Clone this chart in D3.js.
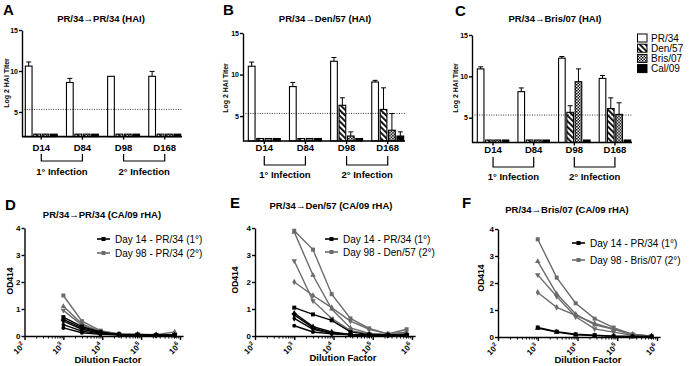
<!DOCTYPE html>
<html>
<head>
<meta charset="utf-8">
<script src="https://cdn.jsdelivr.net/npm/d3@7"></script>
<style>
  body { margin: 0; background: #fff; }
  svg { font-family: "Liberation Sans", Arial, sans-serif; }
</style>
</head>
<body>
<svg id="fig" width="696" height="366"></svg>
<script>
// HAI titers (log2), rows = days, cols = strains
const days = ['D14', 'D84', 'D98', 'D168'];
const strains = ['PR/34', 'Den/57', 'Bris/07', 'Cal/09'];
const haiA = [[10.6, 2.3, 2.3, 2.3], [8.6, 2.3, 2.3, 2.3], [9.35, 2.3, 2.3, 2.3], [9.35, 2.3, 2.3, 2.3]];
const errA = [[0.5, 0, 0, 0], [0.5, 0, 0, 0], [0, 0, 0, 0], [0.6, 0, 0, 0]];
const haiB = [[11.0, 2.3, 2.3, 2.3], [8.55, 2.3, 2.3, 2.3], [11.6, 6.3, 2.6, 2.3], [9.1, 5.8, 3.3, 2.6]];
const errB = [[0.5, 0, 0, 0], [0.5, 0, 0, 0], [0.45, 0.9, 0.5, 0], [0.2, 2.6, 2.0, 0.5]];
const haiC = [[10.9, 2.3, 2.3, 2.3], [8.15, 2.3, 2.3, 2.3], [12.2, 5.65, 9.35, 2.3], [9.75, 6.1, 5.4, 2.3]];
const errC = [[0.25, 0, 0, 0], [0.45, 0, 0, 0], [0.2, 0.8, 1.55, 0], [0.35, 1.3, 1.4, 0]];
const haiTicks = [5, 10, 15];
const detectLimit = 5.32;
const infections = ['1° Infection', '2° Infection'];

// ELISA OD414 vs dilution
const dilutions = [1000, 3000, 9000, 27000, 81000, 243000, 729000];
const odTicks = [0, 1, 2, 3, 4];
const d14D = [
  [0.7, 0.35, 0.15, 0.06, 0.05, 0.03, 0.03],
  [0.62, 0.3, 0.12, 0.05, 0.04, 0.03, 0.03],
  [0.55, 0.25, 0.1, 0.05, 0.04, 0.03, 0.03],
  [0.42, 0.18, 0.08, 0.04, 0.03, 0.02, 0.02],
  [0.3, 0.12, 0.06, 0.04, 0.03, 0.02, 0.02]
];
const d98D = [
  [1.5, 0.55, 0.2, 0.08, 0.06, 0.04, 0.05],
  [1.1, 0.45, 0.15, 0.08, 0.07, 0.05, 0.15],
  [0.95, 0.4, 0.18, 0.07, 0.05, 0.04, 0.05]
];
const d14E = [
  [1.05, 0.8, 0.58, 0.15, 0.05, 0.03, 0.03],
  [0.85, 0.35, 0.15, 0.06, 0.04, 0.03, 0.03],
  [0.78, 0.3, 0.1, 0.05, 0.03, 0.03, 0.03],
  [0.65, 0.25, 0.1, 0.05, 0.03, 0.02, 0.03],
  [0.38, 0.15, 0.08, 0.04, 0.03, 0.02, 0.02]
];
const d98E = [
  [3.9, 3.2, 1.55, 0.65, 0.28, 0.08, 0.25],
  [3.85, 2.25, 1.0, 0.3, 0.1, 0.05, 0.1],
  [2.78, 1.3, 0.65, 0.2, 0.08, 0.05, 0.05],
  [2.0, 1.5, 1.05, 0.55, 0.25, 0.08, 0.15]
];
const d14F = [
  [0.35, 0.2, 0.1, 0.07, 0.03, 0.02, 0.02],
  [0.33, 0.18, 0.08, 0.05, 0.03, 0.02, 0.02]
];
const d98F = [
  [3.62, 2.2, 1.25, 0.68, 0.35, 0.1, 0.03],
  [2.8, 1.6, 0.85, 0.45, 0.28, 0.08, 0.03],
  [2.3, 1.5, 0.75, 0.3, 0.18, 0.06, 0.02],
  [1.65, 1.1, 0.8, 0.5, 0.3, 0.1, 0.03]
];

const svg = d3.select('#fig');
const gray = '#6b6b6b';

// fill patterns
const defs = svg.append('defs');
const hatch = defs.append('pattern').attr('id', 'hatch')
  .attr('patternUnits', 'userSpaceOnUse').attr('width', 4).attr('height', 4)
  .attr('patternTransform', 'rotate(-45)');
hatch.append('rect').attr('width', 4).attr('height', 4).attr('fill', '#fff');
hatch.append('rect').attr('width', 1.8).attr('height', 4).attr('fill', '#000');
const checker = defs.append('pattern').attr('id', 'checker')
  .attr('patternUnits', 'userSpaceOnUse').attr('width', 3).attr('height', 3);
checker.append('rect').attr('width', 3).attr('height', 3).attr('fill', '#fff');
checker.append('rect').attr('width', 1.5).attr('height', 1.5).attr('fill', '#000');
checker.append('rect').attr('x', 1.5).attr('y', 1.5).attr('width', 1.5).attr('height', 1.5).attr('fill', '#000');
const fills = { 'PR/34': '#fff', 'Den/57': 'url(#hatch)', 'Bris/07': 'url(#checker)', 'Cal/09': '#000' };

function label(p) {
  svg.append('text').attr('x', p.lx).attr('y', p.ly)
    .attr('font-size', 15).attr('font-weight', 'bold').text(p.letter);
  svg.append('text').attr('x', p.tx).attr('y', p.ty).attr('text-anchor', 'middle')
    .attr('font-size', 9.5).attr('font-weight', 'bold').text(p.title);
}

function styleAxis(sel) {
  sel.selectAll('.domain, .tick line').attr('stroke', '#000').attr('stroke-width', 1.4);
  sel.selectAll('.tick text').attr('font-weight', 'bold').attr('font-size', 7.5)
    .attr('font-family', '"Liberation Sans", Arial, sans-serif');
}

function barPanel(p, data, err) {
  label(p);
  const g = svg.append('g');
  const y = d3.scaleLinear().domain([2, 15]).range([p.yb, p.yt]);
  const x = d3.scaleBand().domain(days).range([p.bx0, p.bx1]).paddingInner(0.2).paddingOuter(0.02);
  const xs = d3.scaleBand().domain(strains).range([0, x.bandwidth()]).paddingInner(0.08);

  days.forEach((d, i) => {
    const gg = g.append('g').attr('transform', `translate(${x(d)},0)`);
    const rows = strains.map((s, j) => ({ s: s, v: data[i][j], e: err[i][j] }));
    gg.selectAll('rect').data(rows).join('rect')
      .attr('x', r => xs(r.s) + 0.5).attr('width', xs.bandwidth() - 1)
      .attr('y', r => y(r.v)).attr('height', r => y(2) - y(r.v))
      .attr('fill', r => fills[r.s]).attr('stroke', '#000').attr('stroke-width', 1.1);
    const eb = rows.filter(r => r.e > 0);
    gg.selectAll('line.eb').data(eb).join('line').attr('class', 'eb')
      .attr('x1', r => xs(r.s) + xs.bandwidth() / 2).attr('x2', r => xs(r.s) + xs.bandwidth() / 2)
      .attr('y1', r => y(r.v)).attr('y2', r => y(r.v + r.e))
      .attr('stroke', '#000').attr('stroke-width', 1);
    gg.selectAll('line.cap').data(eb).join('line').attr('class', 'cap')
      .attr('x1', r => xs(r.s) + xs.bandwidth() / 2 - 2.5).attr('x2', r => xs(r.s) + xs.bandwidth() / 2 + 2.5)
      .attr('y1', r => y(r.v + r.e)).attr('y2', r => y(r.v + r.e))
      .attr('stroke', '#000').attr('stroke-width', 1);
  });

  // detection limit
  g.append('line').attr('x1', p.ax).attr('x2', p.ax1)
    .attr('y1', y(detectLimit)).attr('y2', y(detectLimit))
    .attr('stroke', '#000').attr('stroke-width', 0.8).attr('stroke-dasharray', '1,1.4');

  // y axis
  const ya = g.append('g').attr('transform', `translate(${p.ax},0)`)
    .call(d3.axisLeft(y).tickValues(haiTicks).tickFormat(d3.format('d'))
      .tickSize(3).tickSizeOuter(0).tickPadding(1));
  styleAxis(ya);
  ya.selectAll('.tick text').attr('font-size', 7);
  g.append('text').attr('transform', `translate(${p.ylx},${p.yly}) rotate(-90)`)
    .attr('text-anchor', 'middle').attr('font-size', 7).attr('font-weight', 'bold')
    .text('Log 2 HAI Titer');

  // x axis
  g.append('line').attr('x1', p.ax).attr('x2', p.ax1).attr('y1', y(2)).attr('y2', y(2))
    .attr('stroke', '#000').attr('stroke-width', 1.6);
  const cx = d => x(d) + x.bandwidth() / 2;
  g.selectAll('line.xt').data(days).join('line').attr('class', 'xt')
    .attr('x1', cx).attr('x2', cx).attr('y1', y(2)).attr('y2', y(2) + 3)
    .attr('stroke', '#000').attr('stroke-width', 1.4);
  g.selectAll('text.xl').data(days).join('text').attr('class', 'xl')
    .attr('x', cx).attr('y', p.labY).attr('text-anchor', 'middle')
    .attr('font-size', 9.5).attr('font-weight', 'bold').text(d => d);

  // infection brackets
  [[days[0], days[1]], [days[2], days[3]]].forEach((pair, k) => {
    const a = cx(pair[0]), b = cx(pair[1]);
    g.append('path').attr('d', `M${a},${p.brTop}V${p.brBot}H${b}V${p.brTop}`)
      .attr('fill', 'none').attr('stroke', '#000').attr('stroke-width', 1.2);
    g.append('text').attr('x', (a + b) / 2).attr('y', p.infY).attr('text-anchor', 'middle')
      .attr('font-size', 9.5).attr('font-weight', 'bold').text(infections[k]);
  });
}

const symbols = [d3.symbolSquare, d3.symbolTriangle, 'down', d3.symbolDiamond, d3.symbolCircle];
function marker(sel, k, cx, cy, color) {
  const t = symbols[k % symbols.length];
  const isDown = t === 'down';
  sel.append('path')
    .attr('d', d3.symbol().type(isDown ? d3.symbolTriangle : t).size(k === 0 ? 16 : 13)())
    .attr('transform', `translate(${cx},${cy})` + (isDown ? ' rotate(180)' : ''))
    .attr('fill', color);
}

function linePanel(p, black, grey) {
  label(p);
  const g = svg.append('g');
  const span = Math.log10(1.2e6 / 100);
  const x = d3.scaleLog().domain([100, 1.2e6]).range([p.x0, p.x0 + (p.x6 - p.x0) * span / 4]);
  const y = d3.scaleLinear().domain([0, 4]).range([p.y0, p.y4]);
  const line = d3.line().x((d, i) => x(dilutions[i])).y(d => y(d));

  const draw = (series, color) => {
    series.forEach((s, k) => {
      g.append('path').datum(s).attr('d', line).attr('fill', 'none')
        .attr('stroke', color).attr('stroke-width', 1.4);
      s.forEach((v, i) => marker(g, k, x(dilutions[i]), y(v), color));
    });
  };
  draw(grey, gray);
  draw(black, '#000');

  // y axis
  const ya = g.append('g').attr('transform', `translate(${p.x0},0)`)
    .call(d3.axisLeft(y).tickValues(odTicks).tickFormat(d3.format('d'))
      .tickSize(3).tickSizeOuter(0).tickPadding(1));
  styleAxis(ya);
  ya.selectAll('.tick text').attr('font-size', 8);
  g.append('text').attr('transform', `translate(${p.ylx},${p.yly}) rotate(-90)`)
    .attr('text-anchor', 'middle').attr('font-size', 8.5).attr('font-weight', 'bold').text('OD414');

  // x axis, log ticks
  const majors = [1e2, 1e3, 1e4, 1e5, 1e6];
  const minors = [];
  [1e2, 1e3, 1e4, 1e5].forEach(m => { for (let k = 2; k < 10; k++) minors.push(m * k); });
  const xa = g.append('g').attr('transform', `translate(0,${p.y0})`)
    .call(d3.axisBottom(x).tickValues(majors).tickSize(4).tickSizeOuter(0).tickFormat(''));
  styleAxis(xa);
  const xm = g.append('g').attr('transform', `translate(0,${p.y0})`)
    .call(d3.axisBottom(x).tickValues(minors).tickSize(2.5).tickSizeOuter(0).tickFormat(''));
  xm.select('.domain').remove();
  xm.selectAll('.tick line').attr('stroke', '#000').attr('stroke-width', 1);
  majors.forEach(m => {
    const t = g.append('text')
      .attr('transform', `translate(${x(m) + 1},${p.y0 + 10}) rotate(-45)`)
      .attr('text-anchor', 'end').attr('font-size', 8).attr('font-weight', 'bold');
    t.append('tspan').text('10');
    t.append('tspan').attr('font-size', 6).attr('dy', -3.5).text(Math.round(Math.log10(m)));
  });
  g.append('text').attr('x', p.xlx).attr('y', p.xly).attr('text-anchor', 'middle')
    .attr('font-size', 9.5).attr('font-weight', 'bold').text('Dilution Factor');

  // legend
  [[p.leg[0], '#000'], [p.leg[1], gray]].forEach((l, k) => {
    const ly = p.legY[k];
    g.append('line').attr('x1', p.legX).attr('x2', p.legX + 13).attr('y1', ly).attr('y2', ly)
      .attr('stroke', l[1]).attr('stroke-width', 1.6);
    marker(g, 0, p.legX + 6.5, ly, l[1]);
    g.append('text').attr('x', p.legX + 18).attr('y', ly + 3.5)
      .attr('font-size', 10).text(l[0]);
  });
}

barPanel({ letter: 'A', lx: 3, ly: 15, title: 'PR/34→PR/34 (HAI)', tx: 101, ty: 22,
  ax: 22, ax1: 182, bx0: 24, bx1: 182, yt: 30, yb: 136.6, ylx: 9, yly: 83,
  labY: 151, brTop: 154, brBot: 161, infY: 175 }, haiA, errA);
barPanel({ letter: 'B', lx: 223, ly: 15, title: 'PR/34→Den/57 (HAI)', tx: 325, ty: 22,
  ax: 243, ax1: 405, bx0: 247, bx1: 405, yt: 33, yb: 141, ylx: 228, yly: 88,
  labY: 151, brTop: 156, brBot: 165, infY: 178 }, haiB, errB);
barPanel({ letter: 'C', lx: 455, ly: 16, title: 'PR/34→Bris/07 (HAI)', tx: 555, ty: 22,
  ax: 472, ax1: 632, bx0: 476, bx1: 632, yt: 35, yb: 142.5, ylx: 458, yly: 88,
  labY: 153, brTop: 157, brBot: 167, infY: 180 }, haiC, errC);

// legend for HAI panels
strains.forEach((s, k) => {
  const ly = 38 + k * 10.2;
  svg.append('rect').attr('x', 637.5).attr('y', ly - 4).attr('width', 9.5).attr('height', 8)
    .attr('fill', fills[s]).attr('stroke', '#000').attr('stroke-width', 1);
  svg.append('text').attr('x', 651).attr('y', ly + 3.5).attr('font-size', 10).text(s);
});

linePanel({ letter: 'D', lx: 5, ly: 210, title: 'PR/34→PR/34 (CA/09 rHA)', tx: 102, ty: 218,
  x0: 24.5, x6: 180, y0: 336, y4: 228, ylx: 13, yly: 281, xlx: 108, xly: 363,
  legX: 97, legY: [239, 253], leg: ['Day 14 - PR/34 (1°)', 'Day 98 - PR/34 (2°)'] }, d14D, d98D);
linePanel({ letter: 'E', lx: 230, ly: 208, title: 'PR/34→Den/57  (CA/09 rHA)', tx: 331, ty: 209,
  x0: 255, x6: 412, y0: 336, y4: 228, ylx: 238, yly: 280, xlx: 343, xly: 361,
  legX: 325, legY: [239, 252], leg: ['Day 14 - PR/34 (1°)', 'Day 98 - Den/57 (2°)'] }, d14E, d98E);
linePanel({ letter: 'F', lx: 462, ly: 208, title: 'PR/34→Bris/07 (CA/09 rHA)', tx: 567, ty: 213,
  x0: 498, x6: 657, y0: 337, y4: 229, ylx: 484, yly: 278, xlx: 588, xly: 363,
  legX: 572, legY: [243, 260], leg: ['Day 14 - PR/34 (1°)', 'Day 98 - Bris/07 (2°)'] }, d14F, d98F);
</script>
</body>
</html>
